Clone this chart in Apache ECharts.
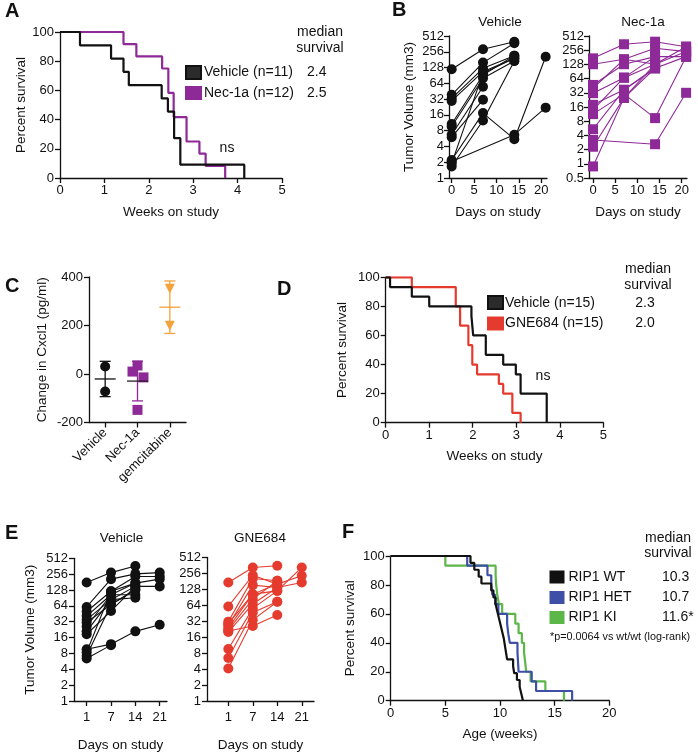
<!DOCTYPE html>
<html><head><meta charset="utf-8">
<script src="https://cdn.jsdelivr.net/npm/echarts@6/dist/echarts.min.js"></script>
<style>html,body{margin:0;padding:0;background:#fff}#c{width:698px;height:753px}</style>
</head><body><div id="c"></div><script>
// ---------- DATA ----------
// Panel A: Kaplan-Meier [weeks, % survival]
const aVehicle = [[0,100],[0.45,90.9],[1.15,81.8],[1.43,72.7],[1.55,63.6],[2.29,54.5],[2.43,45.5],[2.57,27.3],[2.71,9.1],[4.15,0]];
const aNec = [[0,100],[1.43,91.7],[1.72,83.3],[2.3,75],[2.44,58.3],[2.56,41.7],[2.85,25],[3.14,16.7],[3.28,8.3],[3.72,0]];
const aLegend = ['Vehicle (n=11)','Nec-1a (n=12)'];
const aMedian = ['2.4','2.5'];
// Panel B: tumor volume per mouse on days 0,7,14,21
const bDays = [0,7,14,21];
const bTicks = [0,5,10,15,20];
const bVehicle = [
 [119,286,399,null],[38.6,159,372,null],[33,124,216,null],[29.6,107,193,null],
 [10.7,92,216,null],[9.6,80,171,null],[6.7,55,null,null],[6.0,31,null,null],
 [2.2,17.3,5.5,206],[2.07,null,6.7,22],[1.66,12.5,171,null],[1.9,100,193,null]
];
const bNec = [
 [172,342,388,304],[129,164,282,239],[47,129,187,187],[40,164,129,239],
 [31.4,67,129,null],[17.8,37,106,187],[13.9,67,187,null],[11.3,30,9.3,187],
 [5.4,37,106,null],[3.2,null,2.6,32],[2.3,25,106,null],[0.88,25,129,304]
];
// Panel C: change in Cxcl1 (pg/ml)
const cCategories = ['Vehicle','Nec-1a','gemcitabine'];
const cVehicle = [31,-72];
const cNec = [10,35,-14,-148];
const cGem = [352,199];
// Panel D
const dVehicle = [[0,100],[0.1,93.3],[0.6,86.7],[1.0,80],[1.97,73.3],[2.01,60],[2.3,46.7],[2.7,40],[2.99,33.3],[3.1,20],[3.7,0]];
const dGNE = [[0,100],[0.6,93.3],[1.61,80],[1.71,66.7],[1.9,53.3],[1.99,40],[2.1,33.3],[2.6,26.7],[2.7,20],[2.91,6.7],[3.1,0]];
const dLegend = ['Vehicle (n=15)','GNE684 (n=15)'];
const dMedian = ['2.3','2.0'];
// Panel E: tumor volume per mouse on days 1,7,14,21
const eDays = ['1','7','14','21'];
const eVehicle = [
 [178,274,367,null],[61,206,259,274],[50,121,231,231],[41,104,173,206],
 [35,84,150,150],[31,68,130,null],[26,104,104,null],[21,84,91,null],
 [18.5,51,150,null],[9.6,12,21,28],[8.4,121,173,null],[7.2,68,130,null],[6.4,11.5,null,null]
];
const eGNE = [
 [173,332,357,null],[61,237,161,231],[31.5,206,186,null],[27,154,139,173],
 [24,104,120,332],[22,84,186,null],[20,68,139,null],[9.6,56,120,null],
 [6.5,47,75,null],[4.1,34,75,null],[21,26,42,null],[29,104,161,null]
];
// Panel F
const fWT = [[0,100],[7.3,95.2],[7.65,90.5],[8.05,85.7],[8.3,81],[9.2,76.2],[9.4,71.4],[9.6,66.7],[9.75,61.9],[9.9,57.1],[10.05,52.4],[10.2,47.6],[10.35,42.9],[10.45,38.1],[10.55,33.3],[10.65,28.6],[11.2,23.8],[11.3,19],[11.55,14.3],[11.8,9.5],[11.95,4.8],[12.1,0]];
const fHET = [[0,100],[7.0,93.3],[8.85,86.7],[9.2,80],[9.3,73.3],[9.55,66.7],[9.85,60],[10.65,53.3],[10.75,46.7],[10.9,40],[11.6,33.3],[11.65,26.7],[11.7,20],[12.9,13.3],[13.3,6.7],[16.6,0]];
const fKI = [[0,100],[5.0,93.3],[9.6,86.7],[9.65,80],[9.75,73.3],[9.9,66.7],[10.2,60],[11.4,53.3],[11.7,46.7],[12.0,40],[12.2,33.3],[12.3,26.7],[12.4,20],[12.8,13.3],[14.15,6.7],[15.85,0]];
const fLegend = ['RIP1 WT','RIP1 HET','RIP1 KI'];
const fMedian = ['10.3','10.7','11.6*'];
const fNote = '*p=0.0064 vs wt/wt (log-rank)';

// ---------- STYLE ----------
const FONT = '"Liberation Sans", Arial, Helvetica, sans-serif';
const BLACK='#111111', PURPLE='#8e2a97', RED='#e53b2e', ORANGE='#f4a23a', BLUE='#3d50a6', GREEN='#5cb648';
const TICK = 13, NAME = 13.5, LEG = 14;

function axisBase(extra){
  return Object.assign({
    axisLine:{show:true,onZero:false,lineStyle:{color:BLACK,width:1.3}},
    axisTick:{show:true,length:5,lineStyle:{color:BLACK,width:1.3}},
    axisLabel:{color:BLACK,fontSize:TICK,fontFamily:FONT,margin:6},
    splitLine:{show:false},
    nameTextStyle:{color:BLACK,fontSize:NAME,fontFamily:FONT},
    nameLocation:'middle'
  }, extra);
}
function merge(a,b){ const o=axisBase(b); if(b.axisLabel) o.axisLabel=Object.assign({},axisBase({}).axisLabel,b.axisLabel); if(b.axisTick) o.axisTick=Object.assign({},axisBase({}).axisTick,b.axisTick); return o; }
const logFmt = v => String(+Number(v).toPrecision(6));

const grids = [
  {left:60,top:32,width:222,height:146},       // A
  {left:449,top:36,width:98,height:142},       // B veh
  {left:589,top:36,width:98,height:142},       // B nec
  {left:89,top:277,width:97,height:145.5},     // C
  {left:385.7,top:277.3,width:217.6,height:145.4}, // D
  {left:74,top:558.3,width:93,height:144},     // E veh
  {left:207,top:557.5,width:107,height:145},   // E gne
  {left:390.7,top:556,width:218.6,height:144.7} // F
];

const xAxes = [
  merge(0,{gridIndex:0,type:'value',min:0,max:5,interval:1,name:'Weeks on study',nameGap:27}),
  merge(0,{gridIndex:1,type:'value',min:-0.6,max:21.3,name:'Days on study',nameGap:27,
    axisTick:{customValues:bTicks},axisLabel:{customValues:bTicks}}),
  merge(0,{gridIndex:2,type:'value',min:-0.9,max:21.2,name:'Days on study',nameGap:27,
    axisTick:{customValues:bTicks},axisLabel:{customValues:bTicks}}),
  merge(0,{gridIndex:3,type:'category',data:cCategories,
    axisTick:{alignWithLabel:true},axisLabel:{rotate:45,margin:8,interval:0}}),
  merge(0,{gridIndex:4,type:'value',min:0,max:5,interval:1,name:'Weeks on study',nameGap:27}),
  merge(0,{gridIndex:5,type:'value',min:-0.52,max:3.3,name:'Days on study',nameGap:37,
    axisTick:{customValues:[0,1,2,3]},axisLabel:{customValues:[0,1,2,3],margin:10,formatter:v=>eDays[Math.round(v)]}}),
  merge(0,{gridIndex:6,type:'value',min:-0.87,max:3.5,name:'Days on study',nameGap:37,
    axisTick:{customValues:[0,1,2,3]},axisLabel:{customValues:[0,1,2,3],margin:10,formatter:v=>eDays[Math.round(v)]}}),
  merge(0,{gridIndex:7,type:'value',min:0,max:20,interval:5,name:'Age (weeks)',nameGap:27})
];
const yAxes = [
  merge(0,{gridIndex:0,type:'value',min:0,max:100,interval:20,name:'Percent survival',nameGap:28}),
  merge(0,{gridIndex:1,type:'log',logBase:2,min:1,max:512,interval:1,splitNumber:9,name:'Tumor Volume (mm3)',nameGap:33,axisLabel:{formatter:logFmt,margin:5}}),
  merge(0,{gridIndex:2,type:'log',logBase:2,min:0.5,max:512,interval:1,splitNumber:10,axisLabel:{formatter:logFmt,margin:5}}),
  merge(0,{gridIndex:3,type:'value',min:-200,max:400,interval:200,name:'Change in Cxcl1 (pg/ml)',nameGap:40}),
  merge(0,{gridIndex:4,type:'value',min:0,max:100,interval:20,name:'Percent survival',nameGap:36}),
  merge(0,{gridIndex:5,type:'log',logBase:2,min:1,max:512,interval:1,splitNumber:9,name:'Tumor Volume (mm3)',nameGap:37,axisLabel:{formatter:logFmt,margin:6}}),
  merge(0,{gridIndex:6,type:'log',logBase:2,min:1,max:512,interval:1,splitNumber:9,axisLabel:{formatter:logFmt,margin:6}}),
  merge(0,{gridIndex:7,type:'value',min:0,max:100,interval:20,name:'Percent survival',nameGap:33})
];

const series = [];
function km(data,color,gi,z){
  series.push({type:'line',xAxisIndex:gi,yAxisIndex:gi,data:data,step:'end',symbol:'none',
    lineStyle:{color:color,width:2.2},z:z||2,silent:true});
}
function mice(rows,xs,color,symbol,gi){
  rows.forEach(r=>{
    const d=[]; r.forEach((v,i)=>{ if(v!=null) d.push([xs[i],v]); });
    series.push({type:'line',xAxisIndex:gi,yAxisIndex:gi,data:d,symbol:symbol,symbolSize:10,
      showSymbol:true,lineStyle:{color:color,width:1.1},itemStyle:{color:color,opacity:1},silent:true});
  });
}
km(aVehicle,BLACK,0,3); km(aNec,PURPLE,0,2);
mice(bVehicle,bDays,BLACK,'circle',1);
mice(bNec,bDays,PURPLE,'rect',2);
km(dVehicle,BLACK,4,3); km(dGNE,RED,4,2);
mice(eVehicle,[0,1,2,3],BLACK,'circle',5);
mice(eGNE,[0,1,2,3],RED,'circle',6);
km(fWT,BLACK,7,4); km(fHET,BLUE,7,3); km(fKI,GREEN,7,2);

// Panel C points
const cJitter = [[0,0],[-5,0,6,0],[0,0]]; // pixel jitter (style)
const cSets = [cVehicle,cNec,cGem];
const cColors = [BLACK,PURPLE,ORANGE];
const cSymbols = ['circle','rect','triangle'];
cSets.forEach((arr,ci)=>{
  series.push({type:'scatter',xAxisIndex:3,yAxisIndex:3,symbol:cSymbols[ci],symbolSize:ci===2?10:10,
    symbolRotate:ci===2?180:0,itemStyle:{color:cColors[ci],opacity:1},silent:true,z:3,
    data:arr.map((v,k)=>({value:[ci,v],symbolOffset:[cJitter[ci][k]||0,0]}))});
});
function meanSd(a){const m=a.reduce((s,v)=>s+v,0)/a.length;const sd=Math.sqrt(a.reduce((s,v)=>s+(v-m)*(v-m),0)/(a.length-1));return [m,sd];}
const cStats = cSets.map((a,ci)=>{const [m,sd]=meanSd(a);return [ci,m,m-sd,m+sd];});
const cBarColors = [BLACK,PURPLE,ORANGE];
const cMeanColors = [BLACK,'#2a1a2c',ORANGE];
series.push({type:'custom',xAxisIndex:3,yAxisIndex:3,silent:true,z:5,data:cStats,
  renderItem:(params,api)=>{
    const ci=api.value(0);
    const pm=api.coord([ci,api.value(1)]), plo=api.coord([ci,api.value(2)]), phi=api.coord([ci,api.value(3)]);
    const col=cBarColors[ci], mc=cMeanColors[ci];
    const ls={stroke:col,lineWidth:1.3};
    return {type:'group',children:[
      {type:'line',shape:{x1:plo[0],y1:plo[1],x2:phi[0],y2:phi[1]},style:ls},
      {type:'line',shape:{x1:plo[0]-5.5,y1:plo[1],x2:plo[0]+5.5,y2:plo[1]},style:ls},
      {type:'line',shape:{x1:phi[0]-5.5,y1:phi[1],x2:phi[0]+5.5,y2:phi[1]},style:ls},
      {type:'line',shape:{x1:pm[0]-10.5,y1:pm[1],x2:pm[0]+10.5,y2:pm[1]},style:{stroke:mc,lineWidth:1.3}}
    ]};
  }});

// ---------- TEXT / LEGENDS ----------
const g = [];
function txt(t,x,y,o){ o=o||{}; g.push({type:'text',x:x,y:y,silent:true,style:{text:t,fill:o.fill||BLACK,
  font:(o.bold?'bold ':'')+(o.size||LEG)+'px '+FONT,align:o.align||'left',verticalAlign:'middle'}}); }
function box(x,y,w,h,fill,stroke){ g.push({type:'rect',silent:true,shape:{x:x,y:y,width:w,height:h},
  style:{fill:fill,stroke:stroke||null,lineWidth:stroke?2:0}}); }
// letters
txt('A',5,11,{bold:true,size:20}); txt('B',392,10,{bold:true,size:20});
txt('C',5,286,{bold:true,size:20}); txt('D',277,289,{bold:true,size:20});
txt('E',5,533,{bold:true,size:20}); txt('F',342,532,{bold:true,size:20});
// A
txt('median',320,32.5,{align:'center'}); txt('survival',320,48.5,{align:'center'});
box(186,66,15,13,'#2b2b2b',BLACK); box(185,86,17,14,PURPLE);
txt(aLegend[0],204,72.5); txt(aLegend[1],204,93.5);
txt(aMedian[0],307,72.5); txt(aMedian[1],307,93.5);
txt('ns',227,148,{align:'center'});
// B titles
txt('Vehicle',500,22.5,{align:'center',size:13.5}); txt('Nec-1a',643,22.5,{align:'center',size:13.5});
// D
txt('median',648,269,{align:'center'}); txt('survival',648,285,{align:'center'});
box(488,296,15,13,'#2b2b2b',BLACK); box(487,316.5,17,14,RED);
txt(dLegend[0],505,303.5); txt(dLegend[1],505,323.5);
txt(dMedian[0],645,303.5,{align:'center'}); txt(dMedian[1],645,323.5,{align:'center'});
txt('ns',543,376,{align:'center'});
// E titles
txt('Vehicle',121.5,538.5,{align:'center',size:13.5}); txt('GNE684',260,538.5,{align:'center',size:13.5});
// F
txt('median',668,538,{align:'center'}); txt('survival',668,553.5,{align:'center'});
const fCols=[BLACK,BLUE,GREEN], fY=[577,597.5,617.5];
fLegend.forEach((t,i)=>{ box(549.5,fY[i]-6.5,15,13,fCols[i]); txt(t,568.5,fY[i]); txt(fMedian[i],662,fY[i]); });
txt(fNote,550,637,{size:10.8});

const chart = echarts.init(document.getElementById('c'),null,{renderer:'canvas'});
chart.setOption({animation:false,backgroundColor:'#fff',textStyle:{fontFamily:FONT},
  grid:grids,xAxis:xAxes,yAxis:yAxes,series:series,graphic:{elements:g}});
</script></body></html>
